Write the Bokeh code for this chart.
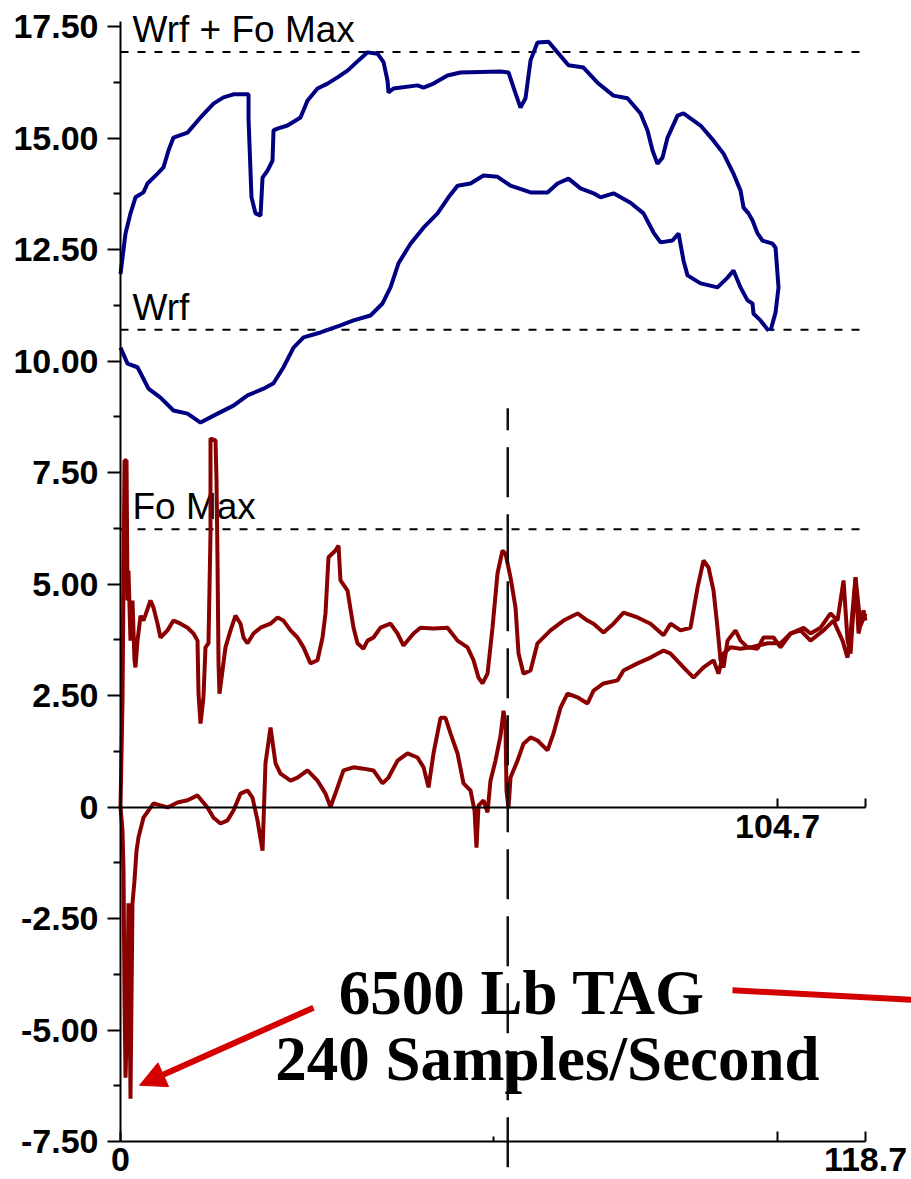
from bokeh.plotting import figure
from bokeh.models import Range1d, LinearAxis, FixedTicker, Arrow, NormalHead, ColumnDataSource
from bokeh.core.properties import value
from bokeh.embed import file_html
from bokeh.resources import INLINE

# ---------------------------------------------------------------------------
# Traces, as (time, value) pairs
# ---------------------------------------------------------------------------
wrf_fo = [
    (0.0, 11.95), (0.8, 12.86), (1.59, 13.31), (2.39, 13.67), (3.66, 13.78), (4.3, 13.98),
    (5.9, 14.2), (6.85, 14.34), (7.65, 14.72), (8.44, 15.01), (10.68, 15.12), (12.75, 15.46),
    (14.82, 15.77), (16.41, 15.91), (18.0, 15.98), (20.4, 15.98), (20.4, 15.43), (20.87, 13.67),
    (21.51, 13.31), (22.31, 13.26), (22.63, 14.11), (23.42, 14.27), (24.22, 14.49), (24.38, 15.17),
    (25.02, 15.21), (26.61, 15.28), (28.68, 15.46), (29.8, 15.84), (31.39, 16.11), (32.98, 16.22),
    (34.58, 16.36), (36.17, 16.51), (37.92, 16.74), (39.36, 16.92), (40.95, 16.89), (41.91, 16.7),
    (42.54, 16.29), (42.7, 16.02), (43.5, 16.11), (47.32, 16.18), (48.28, 16.13), (49.87, 16.22),
    (52.1, 16.4), (54.17, 16.47), (60.55, 16.49), (61.82, 16.47), (62.94, 16.0), (63.73, 15.68),
    (64.53, 15.89), (65.33, 16.74), (66.44, 17.14), (68.2, 17.16), (69.63, 16.92), (71.38, 16.63),
    (73.77, 16.58), (76.0, 16.24), (78.55, 15.95), (80.78, 15.89), (82.86, 15.55), (83.97, 15.17),
    (84.77, 14.72), (85.56, 14.42), (86.36, 14.56), (87.16, 15.01), (88.75, 15.5), (89.71, 15.55),
    (92.42, 15.28), (94.49, 14.94), (96.08, 14.65), (97.67, 14.2), (98.79, 13.82), (99.27, 13.44),
    (100.06, 13.31), (100.7, 13.15), (101.5, 12.86), (102.29, 12.7), (103.89, 12.63), (104.37, 12.54),
    (104.84, 11.65), (104.37, 11.09), (103.57, 10.68),
]

wrf = [
    (0.0, 10.3), (1.12, 9.94), (2.71, 9.86), (4.46, 9.38), (6.37, 9.18), (8.44, 8.89),
    (10.68, 8.82), (12.75, 8.62), (15.46, 8.82), (18.0, 9.0), (20.24, 9.23), (22.79, 9.38),
    (24.38, 9.5), (25.97, 9.86), (27.57, 10.3), (29.16, 10.53), (31.87, 10.64), (35.05, 10.8),
    (37.13, 10.91), (39.83, 11.02), (41.75, 11.29), (43.02, 11.65), (44.29, 12.19), (46.21, 12.63),
    (48.28, 12.99), (50.51, 13.31), (52.26, 13.67), (53.7, 13.93), (55.77, 13.98), (57.84, 14.16),
    (60.07, 14.13), (62.14, 13.93), (65.33, 13.78), (68.04, 13.78), (69.63, 13.98), (71.38, 14.09),
    (73.29, 13.87), (75.37, 13.76), (76.48, 13.67), (78.55, 13.76), (81.26, 13.55), (83.33, 13.31),
    (84.93, 12.88), (86.04, 12.66), (87.95, 12.7), (88.91, 12.86), (89.71, 12.25), (90.34, 11.92),
    (92.42, 11.74), (95.12, 11.65), (96.72, 11.87), (97.67, 12.03), (98.79, 11.65), (99.9, 11.36),
    (100.7, 11.29), (100.86, 11.06), (101.97, 10.91), (103.25, 10.68),
]

force = [
    (0.0, 0.0), (0.32, 2.39), (0.64, 7.77), (0.96, 7.77), (1.12, 4.63), (1.27, 5.3), (1.59, 3.73),
    (1.91, 4.63), (2.23, 3.29), (2.39, 3.13), (2.71, 3.73), (3.19, 4.29), (3.66, 4.18), (4.78, 4.63),
    (5.26, 4.47), (5.9, 4.11), (6.37, 3.8), (7.49, 3.96), (8.44, 4.18), (9.56, 4.11), (10.68, 4.02),
    (11.63, 3.89), (12.27, 3.73), (12.43, 2.54), (12.75, 1.87), (13.22, 2.46), (13.54, 3.58),
    (14.02, 3.67), (14.34, 6.13), (14.34, 8.26), (15.14, 8.22), (15.3, 7.32), (15.46, 5.46),
    (15.62, 3.22), (15.77, 2.54), (16.25, 3.06), (16.73, 3.58), (17.53, 3.96), (18.32, 4.29),
    (19.12, 4.11), (19.6, 3.8), (20.24, 3.67), (21.19, 3.89), (22.31, 4.02), (23.9, 4.11),
    (25.02, 4.25), (25.97, 4.18), (27.09, 3.96), (28.2, 3.8), (29.16, 3.58), (30.27, 3.22),
    (31.39, 3.29), (32.19, 3.8), (32.66, 4.34), (33.14, 5.6), (34.26, 5.75), (34.74, 5.86),
    (35.05, 5.08), (36.17, 4.85), (37.13, 4.02), (37.76, 3.67), (38.72, 3.55), (39.36, 3.73),
    (40.31, 3.8), (41.43, 4.02), (43.02, 4.11), (44.14, 3.89), (45.09, 3.62), (46.69, 3.89),
    (47.8, 4.02), (49.87, 4.0), (52.1, 4.02), (53.7, 3.73), (55.29, 3.58), (56.25, 3.29),
    (57.04, 2.9), (57.68, 2.77), (58.48, 2.99), (59.27, 4.02), (60.07, 5.24), (60.87, 5.75),
    (61.34, 5.68), (62.14, 5.15), (62.94, 4.47), (63.42, 3.44), (64.21, 2.99), (65.33, 3.06),
    (66.44, 3.67), (68.52, 3.96), (70.59, 4.18), (72.82, 4.34), (74.41, 4.18), (75.37, 4.11),
    (76.96, 3.91), (78.55, 4.11), (80.15, 4.36), (82.38, 4.25), (84.45, 4.11), (86.52, 3.85),
    (87.64, 4.11), (89.23, 3.96), (90.82, 4.02), (91.94, 4.92), (92.89, 5.53), (93.69, 5.37),
    (94.49, 4.85), (95.12, 4.02), (95.6, 3.29), (96.08, 3.13), (96.72, 3.73), (97.99, 3.96),
    (98.79, 3.73), (99.9, 3.58), (101.5, 3.55), (102.45, 3.8), (104.05, 3.8), (105.16, 3.58),
    (106.76, 3.89), (108.83, 4.02), (109.94, 3.89), (111.54, 4.02), (113.13, 4.34), (114.24, 4.18),
    (115.2, 5.08), (115.84, 3.73), (116.32, 3.44), (117.11, 5.15), (117.59, 3.89), (118.39, 4.41),
    (118.7, 4.18),
]

velocity = [
    (0.0, 0.0), (0.32, -0.53), (0.48, -1.42), (0.64, -4.34), (0.8, -6.07), (1.12, -4.34),
    (1.27, -2.16), (1.43, -3.78), (1.59, -6.54), (1.75, -4.34), (1.91, -2.16), (2.23, -1.65),
    (2.55, -0.98), (2.87, -0.68), (3.66, -0.24), (5.26, 0.08), (7.49, -0.01), (9.08, 0.1),
    (10.68, 0.15), (12.27, 0.26), (13.86, -0.01), (14.82, -0.24), (15.93, -0.37), (17.05, -0.3),
    (18.0, -0.08), (19.12, 0.3), (20.24, 0.37), (21.03, 0.21), (21.83, -0.3), (22.63, -0.98),
    (23.1, 0.98), (23.9, 1.78), (24.7, 0.98), (25.49, 0.75), (27.09, 0.59), (28.2, 0.66),
    (29.8, 0.82), (31.39, 0.59), (32.66, 0.3), (33.46, 0.0), (34.58, 0.44), (35.53, 0.82),
    (37.13, 0.89), (38.72, 0.86), (40.31, 0.82), (41.75, 0.53), (42.7, 0.66), (44.14, 1.04),
    (45.73, 1.2), (47.32, 1.11), (48.28, 0.89), (49.08, 0.44), (49.87, 1.2), (50.99, 2.0),
    (51.78, 2.0), (52.58, 1.65), (53.7, 1.2), (54.65, 0.53), (55.77, 0.37), (56.41, -0.08),
    (56.72, -0.91), (57.04, 0.03), (57.84, 0.15), (58.48, -0.12), (58.95, 0.59), (59.75, 1.04),
    (60.55, 1.6), (61.03, 2.16), (61.34, 1.83), (61.5, 0.37), (61.82, -0.03), (62.14, 0.66),
    (63.26, 1.04), (64.21, 1.42), (65.33, 1.56), (66.44, 1.49), (68.04, 1.27), (68.99, 1.65),
    (70.11, 2.23), (71.22, 2.54), (72.82, 2.46), (74.41, 2.32), (75.37, 2.61), (76.96, 2.77),
    (79.19, 2.84), (80.15, 3.06), (82.38, 3.22), (84.45, 3.35), (86.52, 3.51), (87.64, 3.44),
    (89.71, 3.13), (91.3, 2.9), (92.89, 3.13), (94.49, 3.29), (95.28, 2.99), (96.08, 3.44),
    (97.2, 3.58), (98.79, 3.55), (100.38, 3.58), (103.09, 3.67), (105.16, 3.67), (106.76, 3.89),
    (108.35, 3.96), (109.94, 3.73), (112.01, 3.96), (113.61, 4.18), (115.04, 3.73), (115.84, 3.35),
    (116.32, 3.89), (117.11, 5.15), (117.91, 4.07), (118.7, 4.34),
]

# Reference levels and time markers
level_values = [16.93, 10.70, 6.23]
level_names = ["Wrf + Fo Max", "Wrf", "Fo Max"]
cursor_t = 61.7
end_t = 104.7
record_t = 118.7

y_ticks = [-7.5, -5, -2.5, 0, 2.5, 5, 7.5, 10, 12.5, 15, 17.5]
y_tick_labels = ["-7.50", "-5.00", "-2.50", "0", "2.50", "5.00", "7.50", "10.00", "12.50", "15.00", "17.50"]
y_minor_ticks = [-6.25, -3.75, -1.25, 1.25, 3.75, 6.25, 8.75, 11.25, 13.75, 16.25]

x_ticks = [0, end_t, record_t]
x_bottom_labels = ["0", "", "118.7"]
x_zero_labels = ["", "104.7", ""]

note_lines = ["6500 Lb TAG", "240 Samples/Second"]

# ---------------------------------------------------------------------------
# Canvas geometry: the frame fills the page, axes sit at fixed data locations
# ---------------------------------------------------------------------------
W, H = 911, 1179
ORIGIN_PX = 120                 # horizontal position of t = 0
PX_PER_T = 745 / record_t       # horizontal pixels per time unit
PX_PER_V = 44.6                 # vertical pixels per value unit
ZERO_PX = 806.5                 # distance of the zero line from the top

NAVY = "#000080"
MAROON = "#8a0000"
RED = "#d40000"
SANS = "Liberation Sans"
SERIF = "Liberation Serif"

p = figure(
    width=W, height=H,
    x_range=Range1d(-ORIGIN_PX / PX_PER_T, (W - ORIGIN_PX) / PX_PER_T),
    y_range=Range1d(-(H - ZERO_PX) / PX_PER_V, ZERO_PX / PX_PER_V),
    x_axis_type=None, y_axis_type=None,
    output_backend="svg", toolbar_location=None,
    min_border_left=0, min_border_right=0, min_border_top=0, min_border_bottom=0,
)
p.outline_line_color = None
p.background_fill_color = "white"
p.border_fill_color = "white"


def style_axis(ax):
    ax.axis_line_color = "black"
    ax.axis_line_width = 2
    ax.major_tick_line_color = "black"
    ax.major_tick_line_width = 2
    ax.minor_tick_line_color = "black"
    ax.minor_tick_line_width = 2
    ax.major_label_text_font = SANS
    ax.major_label_text_font_style = "bold"
    ax.major_label_text_font_size = "34px"
    ax.major_label_text_color = "black"


yax = LinearAxis(
    fixed_location=0,
    ticker=FixedTicker(ticks=y_ticks, minor_ticks=y_minor_ticks),
    bounds=(-7.5, 17.62),
    major_label_overrides=dict(zip(y_ticks, y_tick_labels)),
    major_tick_in=0, major_tick_out=13, minor_tick_in=0, minor_tick_out=7,
    major_label_standoff=9,
)
style_axis(yax)
p.add_layout(yax, "left")

zero_axis = LinearAxis(
    fixed_location=0,
    ticker=FixedTicker(ticks=x_ticks[1:], minor_ticks=[]),
    bounds=(0, record_t),
    major_label_overrides=dict(zip(x_ticks, x_zero_labels)),
    major_tick_in=9, major_tick_out=0, minor_tick_in=0, minor_tick_out=0,
    major_label_standoff=8,
)
style_axis(zero_axis)
p.add_layout(zero_axis, "below")

bottom_axis = LinearAxis(
    fixed_location=-7.5,
    ticker=FixedTicker(ticks=x_ticks, minor_ticks=[59.4]),
    bounds=(0, record_t),
    major_label_overrides=dict(zip(x_ticks, x_bottom_labels)),
    major_tick_in=10, major_tick_out=0, minor_tick_in=5, minor_tick_out=0,
    major_label_standoff=6,
)
style_axis(bottom_axis)
p.add_layout(bottom_axis, "below")

# Dashed reference levels with their names
p.segment(x0=[0] * 3, y0=level_values, x1=[record_t] * 3, y1=level_values,
          line_color="black", line_width=2, line_dash="8 9")
p.text(x=[1.9] * 3, y=[v + 0.5 for v in level_values], text=level_names,
       text_font=value(SANS), text_font_size="37px", text_color="black",
       text_baseline="alphabetic", text_align="left")


def trace(pairs, color, width):
    src = ColumnDataSource(dict(t=[a for a, _ in pairs], v=[b for _, b in pairs]))
    p.line("t", "v", source=src, line_color=color, line_width=width)


trace(wrf_fo, NAVY, 4)
trace(wrf, NAVY, 4)
trace(velocity, MAROON, 4)
trace(force, MAROON, 4)

# Time cursor
p.line([cursor_t, cursor_t], [-8.08, 8.94], line_color="#111111", line_width=2.5, line_dash="50 17")

# Annotation
p.text(x=[63.97, 68.03], y=[-4.18, -5.64], text=note_lines,
       text_font=value(SERIF), text_font_style="bold", text_font_size="63px",
       text_color="black", text_align="center", text_baseline="alphabetic")
p.add_layout(Arrow(end=NormalHead(size=26, fill_color=RED, line_color=RED),
                   x_start=30.75, y_start=-4.5, x_end=3.03, y_end=-6.24,
                   line_color=RED, line_width=6))
p.segment(x0=[97.51], y0=[-4.11], x1=[126.03], y1=[-4.32], line_color=RED, line_width=6)

open("out.html", "w").write(file_html(p, INLINE))
